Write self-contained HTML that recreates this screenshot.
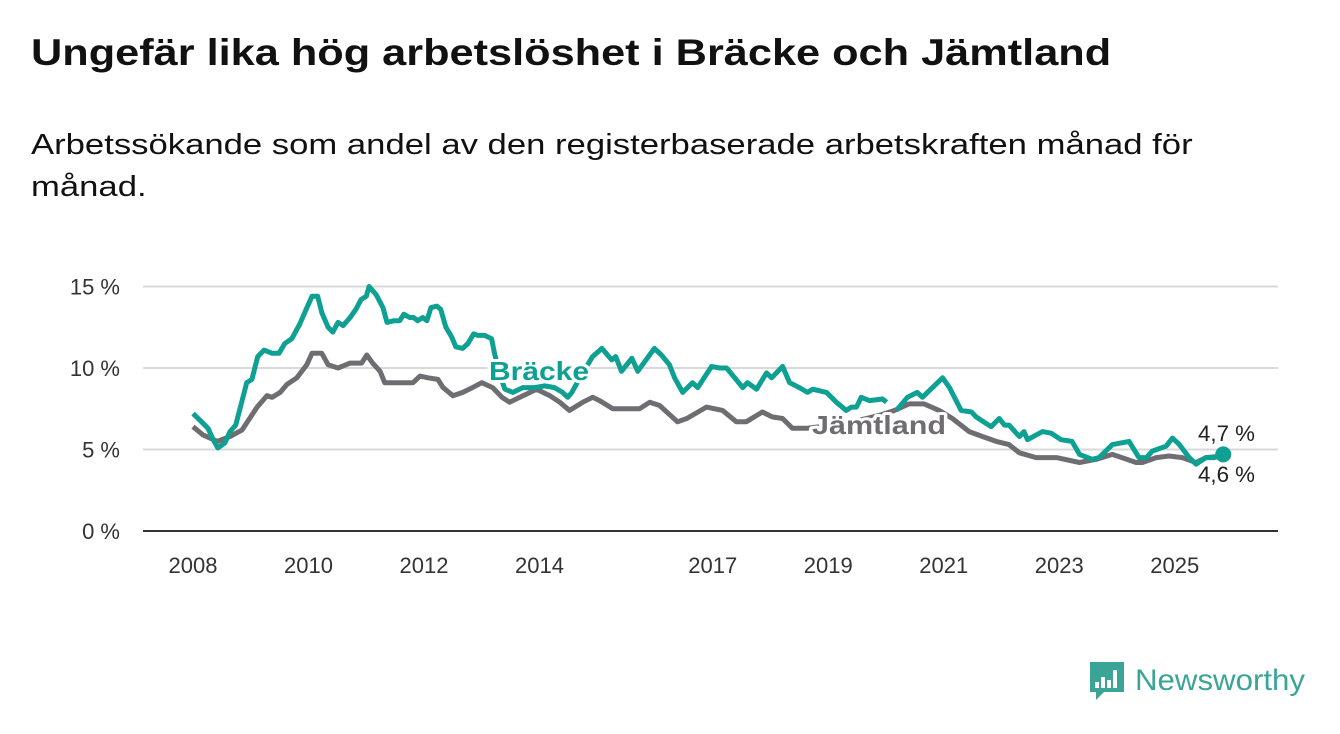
<!DOCTYPE html>
<html><head><meta charset="utf-8"><style>
body{margin:0;width:1340px;height:734px;background:#fff;font-family:"Liberation Sans","DejaVu Sans",sans-serif;overflow:hidden;position:relative}
h1{position:absolute;left:31px;top:32px;margin:0;font-size:37px;font-weight:bold;color:#111;white-space:nowrap;transform:scaleX(1.17);transform-origin:0 0}
p{position:absolute;left:31px;top:124px;margin:0;font-size:29px;line-height:42px;color:#111;white-space:nowrap;transform:scaleX(1.195);transform-origin:0 0}
svg{position:absolute;left:0;top:0}
</style></head><body>
<h1>Ungefär lika hög arbetslöshet i Bräcke och Jämtland</h1>
<p>Arbetssökande som andel av den registerbaserade arbetskraften månad för<br>månad.</p>
<svg id="chart" width="1340" height="734"></svg>
<script>
const yTicks=[0,5,10,15];
const xTickYears=[2008,2010,2012,2014,2017,2019,2021,2023,2025];
const brackeDates=[2008.00,2008.12,2008.26,2008.35,2008.43,2008.55,2008.64,2008.74,2008.85,2008.93,2009.02,2009.12,2009.23,2009.37,2009.49,2009.59,2009.71,2009.85,2009.96,2010.06,2010.16,2010.23,2010.34,2010.42,2010.51,2010.60,2010.72,2010.82,2010.91,2011.00,2011.05,2011.17,2011.29,2011.36,2011.48,2011.58,2011.65,2011.75,2011.82,2011.89,2011.98,2012.05,2012.12,2012.22,2012.29,2012.38,2012.48,2012.55,2012.67,2012.76,2012.86,2012.93,2013.05,2013.17,2013.22,2013.31,2013.40,2013.54,2013.71,2013.92,2014.09,2014.26,2014.40,2014.49,2014.56,2014.73,2014.92,2015.08,2015.25,2015.32,2015.42,2015.60,2015.70,2015.99,2016.11,2016.25,2016.34,2016.48,2016.65,2016.74,2016.98,2017.12,2017.24,2017.52,2017.60,2017.76,2017.93,2018.02,2018.21,2018.33,2018.50,2018.64,2018.73,2018.97,2019.14,2019.31,2019.40,2019.49,2019.57,2019.71,2019.94,2020.01,2020.10,2020.18,2020.37,2020.54,2020.63,2020.98,2021.10,2021.30,2021.48,2021.56,2021.82,2021.96,2022.05,2022.13,2022.31,2022.39,2022.45,2022.71,2022.86,2023.03,2023.22,2023.35,2023.57,2023.69,2023.92,2024.21,2024.38,2024.51,2024.61,2024.85,2024.96,2025.08,2025.25,2025.37,2025.54,2025.68,2025.84];
const brackeValues=[7.2,6.8,6.3,5.6,5.1,5.4,6.1,6.5,8.0,9.1,9.3,10.7,11.1,10.9,10.9,11.5,11.8,12.7,13.6,14.4,14.4,13.4,12.5,12.2,12.8,12.6,13.1,13.6,14.2,14.4,15.0,14.5,13.7,12.8,12.9,12.9,13.3,13.1,13.1,12.9,13.1,12.9,13.7,13.8,13.6,12.5,11.9,11.3,11.2,11.5,12.1,12.0,12.0,11.8,10.9,9.6,8.7,8.5,8.8,8.8,8.9,8.8,8.5,8.2,8.5,9.6,10.7,11.2,10.5,10.7,9.8,10.6,9.8,11.2,10.8,10.2,9.4,8.5,9.1,8.8,10.1,10.0,10.0,8.8,9.1,8.7,9.7,9.4,10.1,9.1,8.8,8.5,8.7,8.5,7.9,7.4,7.6,7.6,8.2,8.0,8.1,7.9,null,7.4,8.2,8.5,8.2,9.4,8.8,7.4,7.3,7.0,6.4,6.9,6.5,6.5,5.8,6.1,5.6,6.1,6.0,5.6,5.5,4.7,4.4,4.5,5.3,5.5,4.5,4.5,4.9,5.2,5.7,5.3,4.5,4.1,4.5,4.5,4.7];
const jamtDates=[2008.00,2008.17,2008.42,2008.64,2008.85,2009.11,2009.28,2009.37,2009.51,2009.63,2009.80,2009.97,2010.06,2010.23,2010.34,2010.51,2010.72,2010.92,2011.01,2011.11,2011.24,2011.32,2011.53,2011.81,2011.93,2012.07,2012.24,2012.33,2012.50,2012.67,2012.84,2013.00,2013.19,2013.35,2013.48,2013.66,2013.95,2014.18,2014.35,2014.52,2014.75,2014.92,2015.04,2015.27,2015.73,2015.91,2016.08,2016.39,2016.55,2016.89,2017.17,2017.41,2017.58,2017.86,2018.03,2018.21,2018.38,2018.62,2018.85,2019.19,2019.54,2019.89,2020.15,2020.40,2020.66,2020.92,2021.15,2021.44,2021.67,2021.91,2022.13,2022.31,2022.60,2022.95,2023.35,2023.64,2023.92,2024.33,2024.44,2024.68,2024.90,2025.13,2025.37,2025.54,2025.84];
const jamtValues=[6.4,5.9,5.5,5.8,6.2,7.6,8.3,8.2,8.5,9.0,9.4,10.2,10.9,10.9,10.2,10.0,10.3,10.3,10.8,10.3,9.8,9.1,9.1,9.1,9.5,9.4,9.3,8.8,8.3,8.5,8.8,9.1,8.8,8.2,7.9,8.2,8.7,8.3,7.9,7.4,7.9,8.2,8.0,7.5,7.5,7.9,7.7,6.7,6.9,7.6,7.4,6.7,6.7,7.3,7.0,6.9,6.3,6.3,6.4,6.6,6.8,7.1,7.4,7.8,7.8,7.4,6.9,6.1,5.8,5.5,5.3,4.8,4.5,4.5,4.2,4.4,4.7,4.2,4.2,4.5,4.6,4.5,4.2,4.5,4.6];
const lastLabels=["4,7 %","4,6 %"];

const NS="http://www.w3.org/2000/svg";
const svg=document.getElementById('chart');
const X0=143,X1=1278;
function xs(yr){return 193+(yr-2008)*57.75;}
function ys(v){return 531-v*16.3;}
function mk(tag,attrs,parent){const e=document.createElementNS(NS,tag);for(const k in attrs)e.setAttribute(k,attrs[k]);(parent||svg).appendChild(e);return e;}

yTicks.forEach(t=>{
  const g=mk('line',{x1:X0,x2:X1,y1:ys(t),y2:ys(t),stroke:t===0?'#333':'#d9d9d9','stroke-width':2});
  
  
  const tx=mk('text',{x:120,y:ys(t)+8,'text-anchor':'end','font-size':22,fill:'#333'});
  tx.textContent=t+' %';
  
  
});
xTickYears.forEach(yr=>{
  const tx=mk('text',{x:xs(yr),y:573,'text-anchor':'middle','font-size':22,fill:'#333'});
  tx.textContent=yr;
  
  
});
function pathFor(dates,vals){let d='',pen=false;for(let i=0;i<dates.length;i++){if(vals[i]==null){pen=false;continue;}d+=(pen?'L':'M')+xs(dates[i]).toFixed(1)+','+ys(vals[i]).toFixed(1);pen=true;}return d;}
const pj=mk('path',{d:pathFor(jamtDates,jamtValues),fill:'none',stroke:'#6f6d72','stroke-width':5,'stroke-linejoin':'round'});


const pb=mk('path',{d:pathFor(brackeDates,brackeValues),fill:'none',stroke:'#0ea093','stroke-width':5,'stroke-linejoin':'round'});


const lb=mk('text',{x:489,y:380,'font-size':26,'font-weight':'bold',fill:'#0ea093',stroke:'#fff','stroke-width':6,'paint-order':'stroke','stroke-linejoin':'round',textLength:100,lengthAdjust:'spacingAndGlyphs'});
lb.textContent='Bräcke';


const lj=mk('text',{x:812,y:434,'font-size':26,'font-weight':'bold',fill:'#6f6d72',stroke:'#fff','stroke-width':6,'paint-order':'stroke','stroke-linejoin':'round',textLength:134,lengthAdjust:'spacingAndGlyphs'});
lj.textContent='Jämtland';


const bl=brackeDates.length-1;
const dot=mk('circle',{cx:xs(brackeDates[bl]),cy:ys(brackeValues[bl]),r:8,fill:'#0ea093'});


const v1=mk('text',{x:1198,y:441,'font-size':22,fill:'#222',textLength:57,lengthAdjust:'spacingAndGlyphs'});
v1.textContent=lastLabels[0];


const v2=mk('text',{x:1198,y:482,'font-size':22,fill:'#222',textLength:57,lengthAdjust:'spacingAndGlyphs'});
v2.textContent=lastLabels[1];


</script>
<svg width="1340" height="734" style="pointer-events:none">
<path d="M1090 662h34v30h-20l-8 8v-8h-6z" fill="#3aa597"/>
<rect x="1095" y="682" width="4" height="6" fill="#fff"/><rect x="1101" y="677" width="4" height="11" fill="#fff"/><rect x="1107" y="680" width="4" height="8" fill="#fff"/><rect x="1113" y="670" width="4" height="18" fill="#fff"/>
<text x="1135" y="690" font-size="30" fill="#3aa597" font-family="Liberation Sans, sans-serif" textLength="170" lengthAdjust="spacingAndGlyphs">Newsworthy</text>
</svg>
</body></html>
